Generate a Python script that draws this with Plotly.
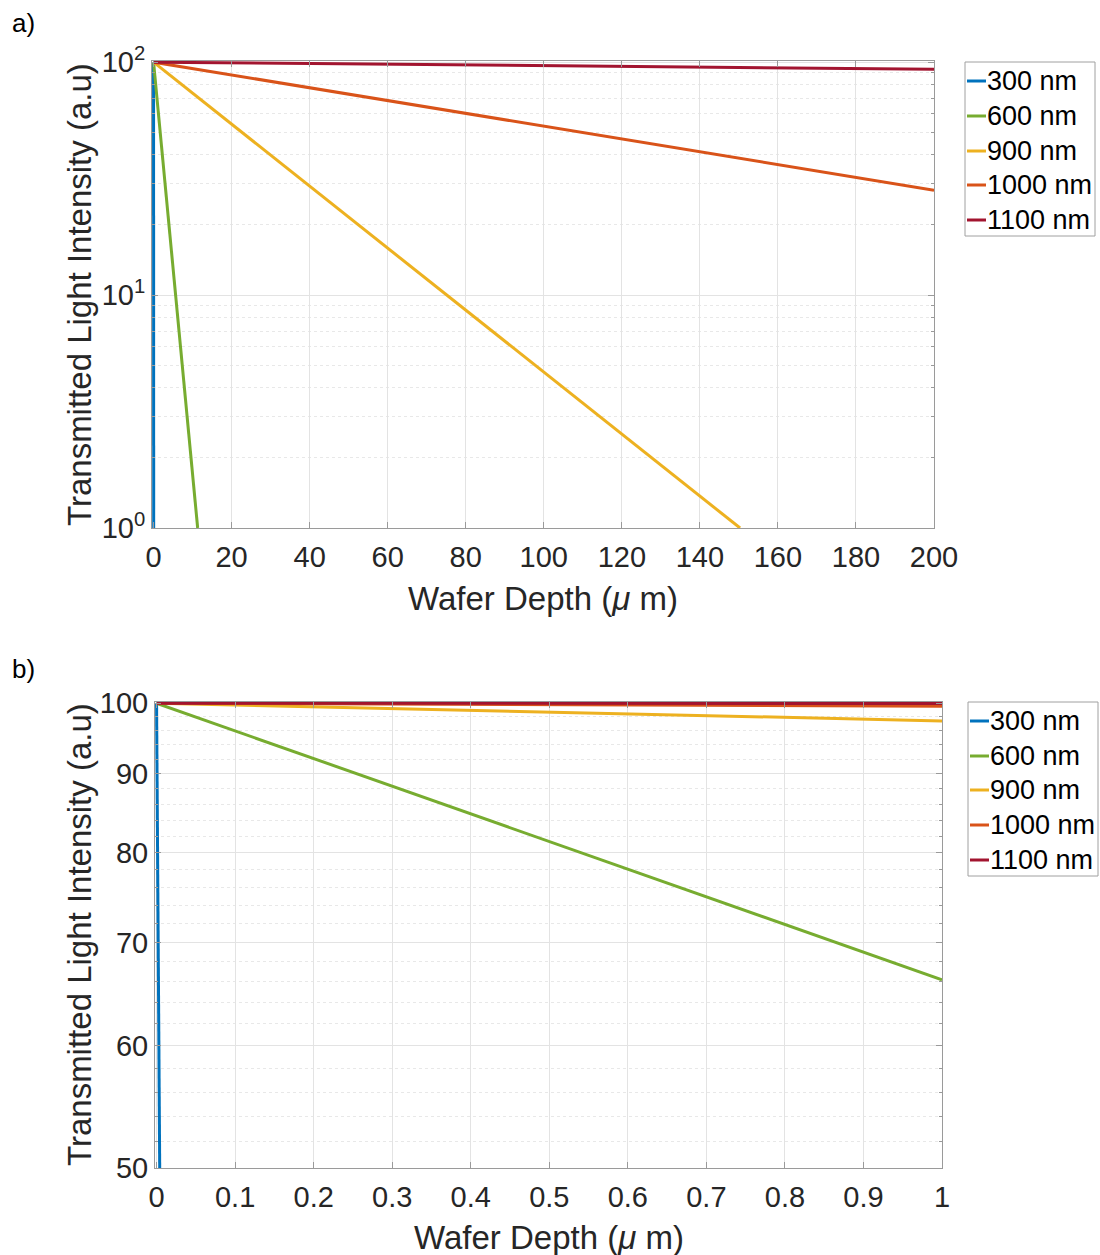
import plotly.graph_objects as go

# ---------------- data ----------------
wavelengths = ["300 nm", "600 nm", "900 nm", "1000 nm", "1100 nm"]
colors = ["#0072BD", "#77AC30", "#EDB120", "#D95319", "#A2142F"]

# panel a) : depth in micrometres, intensity (log axis)
a_x = {
    "300 nm": [0, 0.03],
    "600 nm": [0, 11.3],
    "900 nm": [0, 150.3],
    "1000 nm": [0, 200],
    "1100 nm": [0, 200],
}
a_y = {
    "300 nm": [100, 1],
    "600 nm": [100, 1],
    "900 nm": [100, 1],
    "1000 nm": [100, 28.2],
    "1100 nm": [100, 93.3],
}

# panel b)
b_x = {
    "300 nm": [0, 0.004],
    "600 nm": [0, 1],
    "900 nm": [0, 1],
    "1000 nm": [0, 1],
    "1100 nm": [0, 1],
}
b_y = {
    "300 nm": [100, 50],
    "600 nm": [100, 66.2],
    "900 nm": [100, 97.4],
    "1000 nm": [100, 99.55],
    "1100 nm": [100, 99.97],
}

a_xticks = [0, 20, 40, 60, 80, 100, 120, 140, 160, 180, 200]
a_yticks = [1, 10, 100]
a_yticktext = ["10<sup>0</sup>", "10<sup>1</sup>", "10<sup>2</sup>"]
a_yminor = [2, 3, 4, 5, 6, 7, 8, 9, 20, 30, 40, 50, 60, 70, 80, 90]

b_xticks = [0, 0.1, 0.2, 0.3, 0.4, 0.5, 0.6, 0.7, 0.8, 0.9, 1]
b_xticktext = ["0", "0.1", "0.2", "0.3", "0.4", "0.5", "0.6", "0.7", "0.8", "0.9", "1"]
b_yticks = [50, 60, 70, 80, 90, 100]
b_yminor = [52, 54, 56, 58, 62, 64, 66, 68, 72, 74, 76, 78, 82, 84, 86, 88, 92, 94, 96, 98]

# ---------------- figure ----------------
W, H = 1100, 1255
FONT = "Liberation Sans, Arial, Helvetica, sans-serif"
TICKC = "#262626"
AXC = "#9a9a9a"
GRID = "#e3e3e3"
MGRID = "#e8e8e8"

fig = go.Figure()
for name, c in zip(wavelengths, colors):
    fig.add_trace(go.Scatter(x=a_x[name], y=a_y[name], mode="lines", name=name,
                             line=dict(color=c, width=3), xaxis="x", yaxis="y",
                             showlegend=False))
for name, c in zip(wavelengths, colors):
    fig.add_trace(go.Scatter(x=b_x[name], y=b_y[name], mode="lines", name=name,
                             line=dict(color=c, width=3), xaxis="x2", yaxis="y2",
                             showlegend=False))


def px(v):
    return v / W


def py(v):
    return 1 - v / H


def axis_style():
    return dict(showline=True, linecolor=AXC, linewidth=1, mirror="ticks",
                ticks="inside", ticklen=6, tickcolor=AXC,
                showgrid=True, gridcolor=GRID, gridwidth=1, zeroline=False,
                tickfont=dict(family=FONT, size=29, color=TICKC))


fig.update_layout(
    width=W, height=H,
    margin=dict(l=0, r=0, t=0, b=0, autoexpand=False),
    paper_bgcolor="white", plot_bgcolor="white",
    font=dict(family=FONT, color="black"),
    showlegend=False,
    xaxis=dict(domain=[px(152), px(934)], anchor="y", range=[-0.4, 200],
               tickvals=a_xticks, ticklabelstandoff=3, **axis_style()),
    yaxis=dict(domain=[py(528), py(61)], anchor="x", type="log",
               range=[0, 2.005], tickvals=a_yticks, ticktext=a_yticktext,
               minor=dict(tickmode="array", tickvals=a_yminor, showgrid=True,
                          gridcolor=MGRID, griddash="dot", ticks="inside",
                          ticklen=3, tickcolor=AXC),
               **axis_style()),
    xaxis2=dict(domain=[px(155), px(942)], anchor="y2", range=[-0.002, 1],
                tickvals=b_xticks, ticktext=b_xticktext, ticklabelstandoff=3,
                **axis_style()),
    yaxis2=dict(domain=[py(1168), py(702)], anchor="x2", type="log",
                range=[1.69897, 2.0008], tickvals=b_yticks,
                ticktext=[str(v) for v in b_yticks],
                minor=dict(tickmode="array", tickvals=b_yminor, showgrid=True,
                           gridcolor=MGRID, griddash="dot", ticks="inside",
                           ticklen=3, tickcolor=AXC),
                **axis_style()),
)

ann = []
shapes = []

# custom legends (box, colour sample, label) -- MATLAB style compact legend
legend_boxes = [
    dict(x0=965, y0=62, x1=1095, y1=236, rows=[81, 116, 151, 185, 220]),
    dict(x0=968, y0=702, x1=1098, y1=876, rows=[721, 756, 790, 825, 860]),
]
for lb in legend_boxes:
    shapes.append(dict(type="rect", xref="paper", yref="paper",
                       x0=px(lb["x0"]), x1=px(lb["x1"]),
                       y0=py(lb["y1"]), y1=py(lb["y0"]),
                       line=dict(color="#a0a0a0", width=1), fillcolor="white",
                       layer="above"))
    for name, c, ry in zip(wavelengths, colors, lb["rows"]):
        shapes.append(dict(type="line", xref="paper", yref="paper",
                           x0=px(lb["x0"] + 2), x1=px(lb["x0"] + 21),
                           y0=py(ry), y1=py(ry),
                           line=dict(color=c, width=3), layer="above"))
        ann.append(dict(text=name, x=px(lb["x0"] + 20), y=py(ry),
                        xref="paper", yref="paper", xanchor="left",
                        yanchor="middle", showarrow=False,
                        font=dict(family=FONT, size=27, color="black")))

ann.append(dict(text="a)", x=px(10), y=py(6), xref="paper", yref="paper",
                xanchor="left", yanchor="top", showarrow=False,
                font=dict(family=FONT, size=26, color="black")))
ann.append(dict(text="b)", x=px(10), y=py(652), xref="paper", yref="paper",
                xanchor="left", yanchor="top", showarrow=False,
                font=dict(family=FONT, size=26, color="black")))
ann.append(dict(text="Transmitted Light Intensity (a.u)", x=px(79), y=py(295),
                xref="paper", yref="paper", xanchor="center", yanchor="middle",
                textangle=-90, showarrow=False,
                font=dict(family=FONT, size=33, color=TICKC)))
ann.append(dict(text="Transmitted Light Intensity (a.u)", x=px(79), y=py(935),
                xref="paper", yref="paper", xanchor="center", yanchor="middle",
                textangle=-90, showarrow=False,
                font=dict(family=FONT, size=33, color=TICKC)))
ann.append(dict(text="Wafer Depth (<i>μ</i> m)", x=px(543), y=py(598),
                xref="paper", yref="paper", xanchor="center", yanchor="middle",
                showarrow=False, font=dict(family=FONT, size=33, color=TICKC)))
ann.append(dict(text="Wafer Depth (<i>μ</i> m)", x=px(549), y=py(1237),
                xref="paper", yref="paper", xanchor="center", yanchor="middle",
                showarrow=False, font=dict(family=FONT, size=33, color=TICKC)))
fig.update_layout(annotations=ann, shapes=shapes)

fig.write_html("out.html")
